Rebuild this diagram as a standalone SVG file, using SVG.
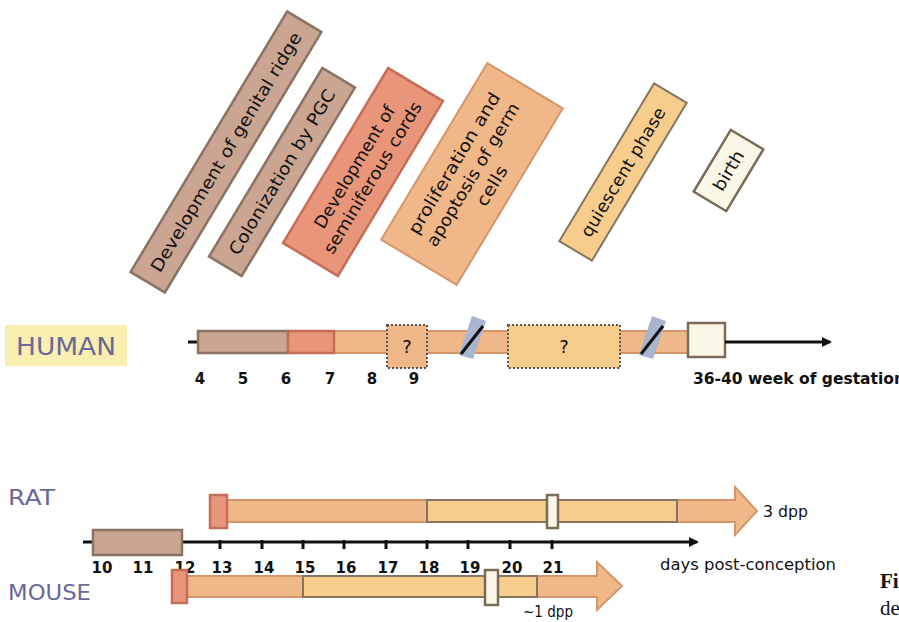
<svg xmlns="http://www.w3.org/2000/svg" width="899" height="622" viewBox="0 0 899 622">
<defs>
<style>
.t{font-family:"DejaVu Sans","Liberation Sans",sans-serif;fill:#111}
.lab{font-family:"DejaVu Sans","Liberation Sans",sans-serif;fill:#6a6898}
.num{font-family:"DejaVu Sans","Liberation Sans",sans-serif;font-weight:bold;font-size:15px;fill:#111;text-anchor:middle}
.brown{fill:#c9a592;stroke:#8a7363;stroke-width:2.5}
.red{fill:#e8957a;stroke:#c56e57;stroke-width:2.5}
.orange{fill:#f0b888;stroke:#d4956b;stroke-width:2}
.yellow{fill:#f6cd8c;stroke:#857560;stroke-width:2}
.birth{fill:#fbf7e6;stroke:#7a6a58;stroke-width:2.5}
.dot{stroke:#555;stroke-width:2;stroke-dasharray:2 2}
.ax{stroke:#111;stroke-width:3;fill:none}
</style>
<marker id="ah" markerWidth="10" markerHeight="10" refX="8" refY="5" orient="auto" markerUnits="userSpaceOnUse"><path d="M0,0 L10,5 L0,10 z" fill="#111"/></marker>
</defs>
<rect width="899" height="622" fill="#fff"/>

<!-- rotated phase boxes -->
<g id="box-genital-ridge" transform="translate(226,152) rotate(-59)">
<rect class="brown" x="-152" y="-20" width="304" height="40"/>
<text class="t" x="0" y="6" font-size="17" text-anchor="middle" textLength="276" lengthAdjust="spacingAndGlyphs">Development of genital ridge</text>
</g>
<g id="box-colonization" transform="translate(282,172) rotate(-59)">
<rect class="brown" x="-110" y="-19" width="220" height="38"/>
<text class="t" x="0" y="6" font-size="17" text-anchor="middle" textLength="190" lengthAdjust="spacingAndGlyphs">Colonization by PGC</text>
</g>
<g id="box-seminiferous" transform="translate(363,172) rotate(-59)">
<rect class="red" x="-102" y="-32" width="204" height="64"/>
<text class="t" x="0" y="-4" font-size="17" text-anchor="middle" textLength="140" lengthAdjust="spacingAndGlyphs">Development of</text>
<text class="t" x="0" y="17" font-size="17" text-anchor="middle" textLength="174" lengthAdjust="spacingAndGlyphs">seminiferous cords</text>
</g>
<g id="box-proliferation" transform="translate(472,174) rotate(-59)">
<rect class="orange" x="-103" y="-44" width="206" height="88" stroke-width="2.5"/>
<text class="t" x="0" y="-15" font-size="17" text-anchor="middle" textLength="162" lengthAdjust="spacingAndGlyphs">proliferation and</text>
<text class="t" x="0" y="7" font-size="17" text-anchor="middle" textLength="164" lengthAdjust="spacingAndGlyphs">apoptosis of germ</text>
<text class="t" x="0" y="29" font-size="17" text-anchor="middle" textLength="44" lengthAdjust="spacingAndGlyphs">cells</text>
</g>
<g id="box-quiescent" transform="translate(623,172) rotate(-59)">
<rect class="yellow" x="-92" y="-19" width="184" height="38" stroke-width="2.5"/>
<text class="t" x="0" y="6" font-size="17" text-anchor="middle" textLength="148" lengthAdjust="spacingAndGlyphs">quiescent phase</text>
</g>
<g id="box-birth" transform="translate(728.5,170.5) rotate(-59)">
<rect class="birth" x="-36" y="-19" width="72" height="38"/>
<text class="t" x="0" y="6" font-size="17" text-anchor="middle" textLength="44" lengthAdjust="spacingAndGlyphs">birth</text>
</g>

<!-- HUMAN -->
<g id="human-label">
<rect x="5" y="325" width="122" height="41" fill="#f8efb0"/>
<text class="lab" x="66" y="355" font-size="24" text-anchor="middle" textLength="100" lengthAdjust="spacingAndGlyphs">HUMAN</text>
</g>
<g id="human-timeline">
<line x1="188" y1="342" x2="198" y2="342" stroke="#111" stroke-width="3"/>
<rect class="orange" x="198" y="331" width="490" height="22"/>
<rect class="brown" x="198" y="331" width="90" height="22"/>
<rect class="red" x="288" y="331" width="46" height="22"/>
<rect class="orange dot" x="387" y="325" width="40" height="43"/>
<text class="t" x="407" y="353" font-size="18" text-anchor="middle">?</text>
<rect class="dot" x="508" y="325" width="112" height="43" fill="#f6cd8c"/>
<text class="t" x="564" y="353" font-size="18" text-anchor="middle">?</text>
<g id="break1">
<polygon points="472,316 486,321 473,359 459,355" fill="#a9b4cf"/>
<line x1="483" y1="326" x2="461" y2="354" stroke="#111" stroke-width="3"/>
</g>
<g id="break2">
<polygon points="652,316 666,321 653,359 639,355" fill="#a9b4cf"/>
<line x1="663" y1="326" x2="641" y2="354" stroke="#111" stroke-width="3"/>
</g>
<rect class="birth" x="688" y="323" width="37" height="34"/>
</g>
<g id="human-axis">
<line class="ax" x1="725" y1="342" x2="830" y2="342" marker-end="url(#ah)"/>
<text class="num" x="200" y="384">4</text>
<text class="num" x="243" y="384">5</text>
<text class="num" x="286" y="384">6</text>
<text class="num" x="330" y="384">7</text>
<text class="num" x="372" y="384">8</text>
<text class="num" x="414" y="384">9</text>
<text class="num" x="693" y="384" style="text-anchor:start" textLength="212" lengthAdjust="spacingAndGlyphs">36-40 week of gestation</text>
</g>

<!-- RAT -->
<g id="rat-label"><text class="lab" x="8" y="505" font-size="21" textLength="47" lengthAdjust="spacingAndGlyphs">RAT</text></g>
<g id="rat-timeline">
<path class="orange" d="M677,500 L735,500 L735,487 L757,511 L735,535 L735,522 L677,522 z"/>
<rect class="orange" x="227" y="500" width="200" height="22"/>
<rect class="yellow" x="427" y="500" width="250" height="22"/>
<rect class="red" x="210" y="495" width="17" height="33"/>
<rect class="birth" x="547" y="495" width="11" height="33" stroke-width="2"/>
<text class="t" x="763" y="517" font-size="15" textLength="45" lengthAdjust="spacingAndGlyphs">3 dpp</text>
</g>

<!-- shared axis -->
<g id="day-axis">
<line class="ax" x1="83" y1="542" x2="697" y2="542" marker-end="url(#ah)"/>
<g stroke="#111" stroke-width="3">
<line x1="220" y1="540" x2="220" y2="549"/>
<line x1="262" y1="540" x2="262" y2="549"/>
<line x1="303" y1="540" x2="303" y2="549"/>
<line x1="344" y1="540" x2="344" y2="549"/>
<line x1="386" y1="540" x2="386" y2="549"/>
<line x1="427" y1="540" x2="427" y2="549"/>
<line x1="468" y1="540" x2="468" y2="549"/>
<line x1="510" y1="540" x2="510" y2="549"/>
<line x1="552" y1="540" x2="552" y2="549"/>
</g>
<rect class="brown" x="93" y="530" width="89" height="25"/>
<text class="num" x="102" y="573">10</text>
<text class="num" x="143" y="573">11</text>
<text class="num" x="185" y="573">12</text>
<text class="num" x="222" y="573">13</text>
<text class="num" x="264" y="573">14</text>
<text class="num" x="305" y="573">15</text>
<text class="num" x="346" y="573">16</text>
<text class="num" x="388" y="573">17</text>
<text class="num" x="429" y="573">18</text>
<text class="num" x="470" y="573">19</text>
<text class="num" x="512" y="573">20</text>
<text class="num" x="553" y="573">21</text>
<text class="t" x="660" y="570" font-size="15" textLength="176" lengthAdjust="spacingAndGlyphs">days post-conception</text>
</g>

<!-- MOUSE -->
<g id="mouse-label"><text class="lab" x="8" y="600" font-size="21" textLength="83" lengthAdjust="spacingAndGlyphs">MOUSE</text></g>
<g id="mouse-timeline">
<path class="orange" d="M537,576 L597,576 L597,562 L622,586 L597,610 L597,597 L537,597 z"/>
<rect class="orange" x="187" y="576" width="116" height="21"/>
<rect class="yellow" x="303" y="576" width="234" height="21"/>
<rect class="red" x="172" y="570" width="15" height="33"/>
<rect class="birth" x="485" y="570" width="13" height="35" stroke-width="2"/>
<text class="t" x="523" y="617" font-size="15" textLength="50" lengthAdjust="spacingAndGlyphs">~1 dpp</text>
</g>

<text x="880" y="588" font-family="Liberation Serif,serif" font-weight="bold" font-size="21" fill="#111">Fi</text>
<text x="880" y="615" font-family="Liberation Serif,serif" font-size="21" fill="#111">de</text>
</svg>
